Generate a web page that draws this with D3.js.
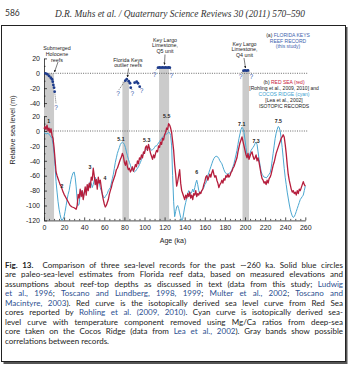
<!DOCTYPE html>
<html><head><meta charset="utf-8">
<script src="https://cdn.jsdelivr.net/npm/d3@7"></script>
<style>body{margin:0;background:#fff}svg{display:block}</style>
</head><body><svg id="c" width="348" height="366"></svg>
<script>
// ---------- DATA ----------
const xTickLabels = [0,20,40,60,80,100,120,140,160,180,200,220,240,260];
const upperTickLabels = [20,0,-20,-40];
const lowerTickLabels = [20,0,-20,-40,-60,-80,-100,-120];

// Red Sea (Rohling) [age ka, level m]
const redSea = [[0,3],[1,6],[2,2],[3,8],[4,0],[5,4],[6,-2],[7,3],[8,-6],[9,-10],[10,-22],[11,-38],[12,-55],[13,-60],[14,-64],[15,-68],[16,-72],[17,-74],[18,-78],[19,-82],[20,-85],[22,-90],[24,-95],[26,-100],[28,-102],[30,-103],[32,-105],[33,-100],[34,-85],[35,-90],[36,-78],[37,-88],[38,-80],[39,-92],[40,-84],[41,-75],[42,-86],[43,-72],[44,-80],[45,-70],[46,-76],[47,-62],[48,-66],[49,-50],[50,-60],[51,-72],[52,-65],[53,-78],[54,-62],[55,-70],[56,-66],[57,-76],[58,-85],[59,-92],[60,-98],[61,-102],[62,-100],[63,-96],[64,-92],[65,-85],[66,-80],[67,-76],[68,-70],[69,-66],[70,-62],[71,-58],[72,-52],[73,-50],[74,-46],[75,-42],[76,-38],[77,-35],[78,-30],[79,-34],[80,-42],[81,-46],[82,-40],[83,-48],[84,-52],[85,-50],[86,-55],[87,-52],[88,-48],[89,-54],[90,-50],[91,-45],[92,-48],[93,-40],[94,-44],[95,-36],[96,-38],[97,-32],[98,-36],[99,-28],[100,-30],[101,-22],[102,-20],[103,-26],[104,-18],[105,-24],[106,-30],[107,-34],[108,-38],[109,-32],[110,-36],[111,-30],[112,-26],[113,-28],[114,-20],[115,-22],[116,-15],[117,-18],[118,-10],[119,-12],[120,-5],[121,-2],[122,4],[123,2],[124,10],[125,8],[126,4],[127,-2],[128,-14],[129,-26],[130,-45],[131,-58],[132,-74],[133,-68],[134,-60],[135,-52],[136,-70],[137,-80],[138,-84],[139,-88],[140,-92],[141,-86],[142,-90],[143,-84],[144,-88],[145,-82],[146,-90],[147,-86],[148,-92],[149,-84],[150,-86],[151,-80],[152,-88],[153,-84],[154,-86],[155,-82],[156,-84],[157,-80],[158,-78],[159,-72],[160,-68],[161,-62],[162,-60],[163,-66],[164,-62],[165,-58],[166,-62],[167,-56],[168,-52],[169,-58],[170,-62],[171,-60],[172,-66],[173,-70],[174,-76],[175,-72],[176,-70],[177,-66],[178,-70],[179,-64],[180,-66],[181,-60],[182,-62],[183,-58],[184,-62],[185,-60],[186,-56],[187,-54],[188,-50],[189,-48],[190,-44],[191,-40],[192,-36],[193,-28],[194,-22],[195,-16],[196,-12],[197,-8],[198,-14],[199,-20],[200,-26],[201,-32],[202,-36],[203,-30],[204,-38],[205,-34],[206,-30],[207,-28],[208,-34],[209,-38],[210,-36],[211,-32],[212,-40],[213,-36],[214,-42],[215,-50],[216,-58],[217,-64],[218,-66],[219,-70],[220,-68],[221,-72],[222,-66],[223,-70],[224,-64],[225,-62],[226,-58],[227,-52],[228,-46],[229,-42],[230,-36],[231,-30],[232,-26],[233,-22],[234,-18],[235,-14],[236,-10],[237,-8],[238,-5],[239,-8],[240,-18],[241,-30],[242,-45],[243,-58],[244,-66],[245,-72],[246,-78],[247,-82],[248,-80],[249,-84],[250,-82],[251,-86],[252,-80],[253,-84],[254,-78],[255,-80],[256,-76],[257,-72],[258,-68],[259,-72],[260,-74]];

// Cocos Ridge (Lea et al.) [age ka, level m]
const cocosRidge = [[0,-2],[2,-4],[4,-3],[6,-6],[8,-10],[9,-18],[10,-30],[11,-48],[12,-68],[13,-82],[14,-95],[15,-105],[16,-112],[17,-118],[18,-120],[19,-118],[20,-115],[21,-108],[22,-100],[23,-92],[24,-85],[25,-80],[26,-72],[27,-65],[28,-60],[29,-56],[30,-55],[31,-62],[32,-75],[33,-92],[34,-100],[35,-98],[36,-84],[37,-80],[38,-86],[39,-88],[40,-82],[41,-78],[42,-80],[43,-75],[44,-72],[45,-74],[46,-68],[47,-70],[48,-76],[49,-72],[50,-66],[51,-62],[52,-68],[53,-72],[54,-66],[55,-70],[56,-76],[57,-80],[58,-84],[59,-88],[60,-90],[61,-88],[62,-86],[63,-84],[64,-80],[65,-78],[66,-76],[67,-70],[68,-64],[69,-58],[70,-50],[71,-42],[72,-36],[73,-30],[74,-26],[75,-22],[76,-18],[77,-16],[78,-15],[79,-16],[80,-18],[81,-22],[82,-28],[83,-33],[84,-38],[85,-42],[86,-46],[87,-50],[88,-52],[89,-54],[90,-55],[91,-54],[92,-52],[93,-50],[94,-48],[95,-45],[96,-42],[97,-38],[98,-34],[99,-30],[100,-28],[101,-26],[102,-24],[103,-23],[104,-22],[105,-22],[106,-24],[107,-26],[108,-25],[109,-24],[110,-22],[111,-20],[112,-20],[113,-18],[114,-16],[115,-14],[116,-12],[117,-10],[118,-8],[119,-7],[120,-6],[121,-5],[122,-4],[123,-3],[124,-2],[125,-2],[126,-6],[127,-20],[128,-60],[129,-95],[130,-115],[131,-108],[132,-102],[133,-100],[134,-104],[135,-110],[136,-116],[137,-120],[138,-118],[139,-110],[140,-102],[141,-96],[142,-90],[143,-84],[144,-80],[145,-82],[146,-84],[147,-82],[148,-78],[149,-82],[150,-76],[151,-70],[152,-66],[153,-72],[154,-80],[155,-84],[156,-82],[157,-80],[158,-78],[159,-76],[160,-72],[161,-70],[162,-66],[163,-60],[164,-56],[165,-52],[166,-48],[167,-44],[168,-40],[169,-37],[170,-35],[171,-34],[172,-34],[173,-35],[174,-37],[175,-40],[176,-42],[177,-44],[178,-48],[179,-52],[180,-55],[181,-57],[182,-58],[183,-58],[184,-57],[185,-56],[186,-55],[187,-52],[188,-48],[189,-44],[190,-38],[191,-32],[192,-26],[193,-18],[194,-10],[195,-4],[196,2],[197,5],[198,3],[199,-2],[200,-12],[201,-22],[202,-32],[203,-36],[204,-34],[205,-30],[206,-26],[207,-24],[208,-22],[209,-20],[210,-17],[211,-15],[212,-18],[213,-28],[214,-38],[215,-46],[216,-54],[217,-58],[218,-60],[219,-62],[220,-62],[221,-63],[222,-62],[223,-60],[224,-58],[225,-56],[226,-50],[227,-40],[228,-30],[229,-20],[230,-10],[231,-3],[232,2],[233,6],[234,5],[235,0],[236,-10],[237,-22],[238,-36],[239,-50],[240,-62],[241,-72],[242,-82],[243,-90],[244,-98],[245,-105],[246,-110],[247,-114],[248,-116],[249,-115],[250,-112],[251,-108],[252,-104],[253,-100],[254,-96],[255,-92],[256,-90],[257,-88],[258,-86],[259,-80],[260,-74]];

// Florida Keys reef record (upper panel)
const holoceneAge   = [1.5,3.3,5,6.7,8,8.7,9.3,10,10.6];
const holoceneLevel = [0,-1.3,-3.6,-5.9,-8,-11.3,-15.7,-19.3,-24.7];
const outlierAge    = [80.9,82.3,84.3,85.6,86.3,90.2,92.2,93.5,95.2];
const outlierLevel  = [-9.9,-8,-10.7,-13.4,-19.3,-12.6,-11.3,-13.4,-18];
const q5Age   = [113.5,115,116.5,118,119.5,121,122.5,124,125.2];
const q5Level = [7.5,7.8,7.5,7.8,7.5,7.8,7.5,7.8,7.5];
const q4Age   = [198.5,200,201.5,203];
const q4Level = [3.5,3.8,3.5,3.8];
const queryAge   = [12,73.6,87.8,97.2,110,126.8,195.7,206.3];
const queryLevel = [-46,-27,-27.5,-23.5,-1.5,-2.5,-4.6,-4.6];

// Gray correlation bands
const bandStart = [0,78,114.5,197.5];
const bandEnd   = [10,84.5,124.5,204];
const bandTop   = [0,-11,6,2.5];

// Marine isotope stage labels
const stageLabels = ["1","2","3","4","5.1","5.3","5.5","6","7.1","7.3","7.5"];
const stageAge    = [4.7,17.9,45.8,60.7,76.6,102.2,122.1,151.9,196.7,211,233.1];
const stageLevel  = [13.4,-74,-48,-63.5,-10.7,-12,20.5,-54.6,9.4,-13.4,13.4];

// ---------- DRAW ----------
const svg = d3.select("#c");
const FONT = "'Liberation Sans', Arial, sans-serif";
svg.append("rect").attr("width",348).attr("height",366).attr("fill","#fff");

// frame
svg.append("rect").attr("x",3.5).attr("y",27).attr("width",344).attr("height",337).attr("fill","#555");
svg.append("rect").attr("x",1.5).attr("y",25.5).attr("width",344).attr("height",336).attr("fill","#fff").attr("stroke","#222").attr("stroke-width",1);

// header
svg.append("text").attr("x",5).attr("y",16).attr("font-family","Lato, sans-serif").attr("font-size",8.5).attr("fill","#333").text("586");
svg.append("text").attr("x",55).attr("y",17).attr("font-family","'Liberation Serif', serif").attr("font-style","italic")
  .attr("font-size",10).attr("fill","#333").attr("textLength",250).attr("lengthAdjust","spacingAndGlyphs")
  .text("D.R. Muhs et al. / Quaternary Science Reviews 30 (2011) 570–590");

const x  = d3.scaleLinear().domain([0,260]).range([44,305.3]);
const yU = d3.scaleLinear().domain([20,-45]).range([58.4,106.8]);
const yL = d3.scaleLinear().domain([20,-120]).range([116.1,220.4]);

// bands
const g = svg.append("g");
bandStart.forEach((s,i)=>{
  g.append("rect").attr("x",x(s)).attr("width",x(bandEnd[i])-x(s))
   .attr("y",yU(bandTop[i])).attr("height",yL(-120)-yU(bandTop[i])).attr("fill","#cbcbcb");
});

// zero lines
[yU(0), yL(0)].forEach(yy=>{
  g.append("line").attr("x1",x(0)).attr("x2",x(262)).attr("y1",yy).attr("y2",yy)
   .attr("stroke","#444").attr("stroke-width",0.8).attr("stroke-dasharray","1,1.3");
});

// axes
function styleAxis(sel){
  sel.selectAll("path,line").attr("stroke","#222").attr("stroke-width",0.8);
  sel.selectAll("text").attr("font-family",FONT).attr("font-size",7).attr("fill","#222");
}
const fmt = d=>String(d);
svg.append("g").attr("transform",`translate(${x(0)},0)`)
  .call(d3.axisLeft(yU).tickValues(upperTickLabels).tickFormat(fmt).tickSize(-3).tickSizeOuter(0).tickPadding(4)).call(styleAxis);
svg.append("g").attr("transform",`translate(${x(0)},0)`)
  .call(d3.axisLeft(yU).tickValues([10,-10,-30]).tickFormat("").tickSize(-1.5).tickSizeOuter(0)).call(styleAxis)
  .select(".domain").remove();
svg.append("g").attr("transform",`translate(${x(0)},0)`)
  .call(d3.axisLeft(yL).tickValues(lowerTickLabels).tickFormat(fmt).tickSize(-3).tickSizeOuter(0).tickPadding(4)).call(styleAxis);
svg.append("g").attr("transform",`translate(${x(0)},0)`)
  .call(d3.axisLeft(yL).tickValues(d3.range(10,-120,-20)).tickFormat("").tickSize(-1.5).tickSizeOuter(0)).call(styleAxis)
  .select(".domain").remove();
svg.append("g").attr("transform",`translate(0,${yL(-120)})`)
  .call(d3.axisBottom(x).tickValues(xTickLabels).tickFormat(fmt).tickSize(-3).tickSizeOuter(0).tickPadding(5)).call(styleAxis);
svg.append("g").attr("transform",`translate(0,${yL(-120)})`)
  .call(d3.axisBottom(x).tickValues(d3.range(5,260,5).filter(v=>v%20)).tickFormat("").tickSize(-1.5).tickSizeOuter(0)).call(styleAxis)
  .select(".domain").remove();

svg.append("text").attr("transform","translate(15,130) rotate(-90)").attr("text-anchor","middle")
  .attr("font-family",FONT).attr("font-size",7.2).attr("fill","#222").text("Relative sea level (m)");
svg.append("text").attr("x",173).attr("y",242.5).attr("text-anchor","middle")
  .attr("font-family",FONT).attr("font-size",7).attr("fill","#222").text("Age (ka)");

// curves
const line = d3.line().x(d=>x(d[0])).y(d=>yL(d[1]));
svg.append("path").datum(cocosRidge).attr("d",line).attr("fill","none").attr("stroke","#4ba7d1").attr("stroke-width",1);
svg.append("path").datum(redSea).attr("d",line).attr("fill","none").attr("stroke","#b51d3c").attr("stroke-width",1.3).attr("stroke-linejoin","round");

// stage labels
stageLabels.forEach((t,i)=>{
  svg.append("text").attr("x",x(stageAge[i])).attr("y",yL(stageLevel[i])+2).attr("text-anchor","middle")
    .attr("font-family",FONT).attr("font-size",5.2).attr("font-weight","bold").attr("fill","#222").text(t);
});

// dotted connectors (points -> ?)
const dot = (a1,l1,a2,l2)=>svg.append("line").attr("x1",x(a1)).attr("y1",yU(l1)).attr("x2",x(a2)).attr("y2",yU(l2))
  .attr("stroke","#333").attr("stroke-width",0.7).attr("stroke-dasharray","1,1");
dot(holoceneAge[8],holoceneLevel[8],queryAge[0],queryLevel[0]+5);
dot(outlierAge[0],outlierLevel[0],queryAge[1]+1,queryLevel[1]+5);
dot(outlierAge[4],outlierLevel[4],queryAge[2],queryLevel[2]+5);
dot(outlierAge[8],outlierLevel[8],queryAge[3],queryLevel[3]+5);
dot(q5Age[0],q5Level[0],queryAge[4]+0.5,queryLevel[4]+5);
dot(q5Age[8],q5Level[8],queryAge[5],queryLevel[5]+5);
dot(q4Age[0],q4Level[0],queryAge[6]+0.5,queryLevel[6]+5);
dot(q4Age[3],q4Level[3],queryAge[7]-0.5,queryLevel[7]+5);

// question marks
queryAge.forEach((a,i)=>{
  svg.append("text").attr("x",x(a)).attr("y",yU(queryLevel[i])+2.5).attr("text-anchor","middle")
    .attr("font-family",FONT).attr("font-size",6.5).attr("fill","#3d62ad").text("?");
});

// reef points
const pts = (ages,levels)=>ages.forEach((a,i)=>svg.append("circle").attr("cx",x(a)).attr("cy",yU(levels[i])).attr("r",1.4).attr("fill","#1e3c8c"));
pts(holoceneAge,holoceneLevel); pts(outlierAge,outlierLevel); pts(q5Age,q5Level); pts(q4Age,q4Level);

// annotation labels with arrows
svg.append("defs").append("marker").attr("id","ah").attr("viewBox","0 0 6 6").attr("refX",5).attr("refY",3)
  .attr("markerWidth",4).attr("markerHeight",4).attr("orient","auto")
  .append("path").attr("d","M0,0L6,3L0,6Z").attr("fill","#222");
function note(lines, cx, y0, dy, ax1, ay1, ax2, ay2){
  lines.forEach((t,i)=>svg.append("text").attr("x",cx).attr("y",y0+i*dy).attr("text-anchor","middle")
    .attr("font-family",FONT).attr("font-size",5.3).attr("fill","#222").text(t));
  svg.append("line").attr("x1",ax1).attr("y1",ay1).attr("x2",ax2).attr("y2",ay2)
    .attr("stroke","#222").attr("stroke-width",0.6).attr("marker-end","url(#ah)");
}
note(["Submerged","Holocene","reefs"], 57, 50, 5.8, 58, 62, 54.5, 72);
note(["Florida Keys","outlier reefs"], 128, 61.5, 5.8, 128.5, 68.5, 127.5, 77);
note(["Key Largo","Limestone,","Q5 unit"], 165, 41.8, 5.6, 165, 54.5, 164.5, 64.5);
note(["Key Largo","Limestone,","Q4 unit"], 244.5, 45.5, 5.5, 244, 58, 245.5, 68);

// legend blocks
function leg(lines, cx, y0, dy){
  lines.forEach((segs,i)=>{
    const t = svg.append("text").attr("x",cx).attr("y",y0+i*dy).attr("text-anchor","middle")
      .attr("font-family",FONT).attr("font-size",5).attr("fill","#222");
    segs.forEach(s=>t.append("tspan").attr("fill",s[1]).text(s[0]));
  });
}
const K="#222", B="#3d62ad", R="#c8203c", C="#3a9fd0";
leg([[["(a) ",K],["FLORIDA KEYS",B]],[["REEF RECORD",B]],[["(this study)",B]]], 288, 36.8, 5.8);
leg([[["(b) ",K],["RED SEA (red)",R]],[["[Rohling et al., 2009, 2010] and",K]],[["COCOS RIDGE (cyan)",C]],[["[Lea et al., 2002]",K]],[["ISOTOPIC RECORDS",K]]], 284, 83.5, 6.1);

// caption
const L="#2c4f8f";
const captionLines = [
  [["Fig. 13.","b"],["  Comparison of three sea-level records for the past ∼260 ka. Solid blue circles",""]],
  [["are paleo-sea-level estimates from Florida reef data, based on measured elevations and",""]],
  [["assumptions about reef-top depths as discussed in text (data from this study; ",""],["Ludwig","l"]],
  [["et al., 1996","l"],["; ",""],["Toscano and Lundberg, 1998, 1999","l"],["; ",""],["Multer et al., 2002","l"],["; ",""],["Toscano and","l"]],
  [["Macintyre, 2003","l"],["). Red curve is the isotopically derived sea level curve from Red Sea",""]],
  [["cores reported by ",""],["Rohling et al. (2009, 2010)","l"],[". Cyan curve is isotopically derived sea-",""]],
  [["level curve with temperature component removed using Mg/Ca ratios from deep-sea",""]],
  [["core taken on the Cocos Ridge (data from ",""],["Lea et al., 2002","l"],["). Gray bands show possible",""]],
  [["correlations between records.",""]]
];
captionLines.forEach((segs,i)=>{
  const t = svg.append("text").attr("x",5).attr("y",267.8+i*9.5)
    .attr("font-family","Lato, sans-serif").attr("font-size",8).attr("fill","#222").attr("xml:space","preserve");
  segs.forEach(s=>{
    const ts = t.append("tspan").text(s[0]);
    if(s[1]==="b") ts.attr("font-weight","bold");
    if(s[1]==="l") ts.attr("fill",L);
  });
  if(i < captionLines.length-1){
    const w = t.node().getComputedTextLength();
    const full = segs.map(s=>s[0]).join("");
    const n = (full.match(/ /g)||[]).length;
    if(n>0) t.attr("word-spacing", (338 - w)/n);
  }
});
</script></body></html>
